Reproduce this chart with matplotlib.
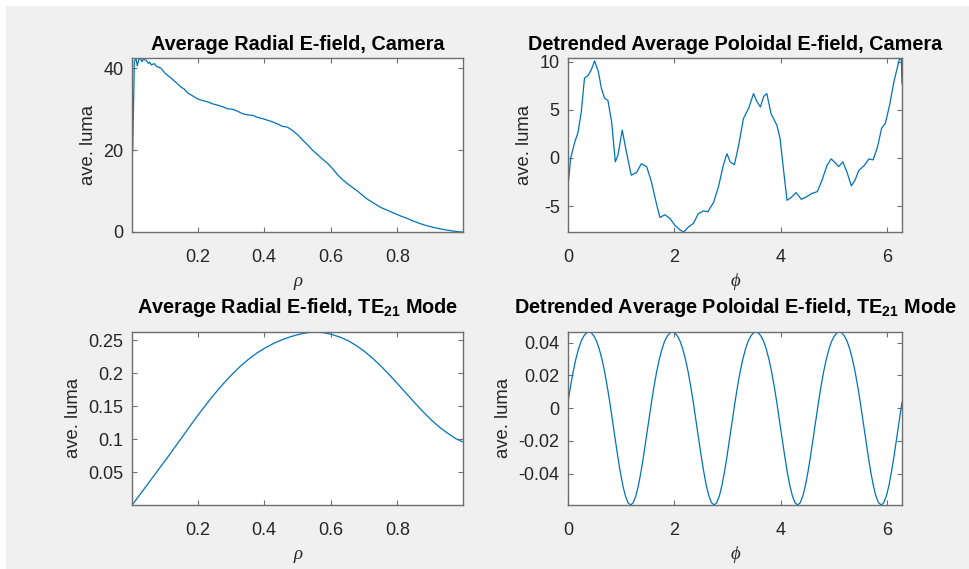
import matplotlib
matplotlib.use("Agg")
import matplotlib.pyplot as plt
import numpy as np
from matplotlib.patches import Rectangle

# ---------------- data ----------------
rho_cam = [0.005, 0.010, 0.015, 0.019, 0.023, 0.028, 0.033, 0.038, 0.046, 0.052,
           0.056, 0.061, 0.066, 0.071, 0.076, 0.081, 0.090, 0.101, 0.111, 0.120,
           0.130, 0.141, 0.150, 0.160, 0.171, 0.180, 0.190, 0.200, 0.215, 0.230,
           0.245, 0.260, 0.275, 0.290, 0.305, 0.320, 0.335, 0.350, 0.365, 0.380,
           0.395, 0.410, 0.425, 0.440, 0.455, 0.470, 0.485, 0.500, 0.515, 0.530,
           0.545, 0.560, 0.575, 0.590, 0.605, 0.620, 0.635, 0.650, 0.665, 0.680,
           0.695, 0.710, 0.730, 0.750, 0.770, 0.790, 0.810, 0.830, 0.850, 0.870,
           0.890, 0.910, 0.930, 0.950, 0.970, 0.985, 0.995]
radial_cam = [19.5, 41.8, 42.3, 40.6, 42.0, 42.4, 41.6, 42.3, 41.9, 41.2,
              41.5, 40.8, 41.0, 41.1, 40.5, 40.3, 40.0, 38.9, 38.2, 37.6,
              36.9, 36.1, 35.4, 34.9, 33.9, 33.5, 33.0, 32.5, 32.1, 31.8,
              31.3, 31.0, 30.6, 30.1, 30.0, 29.5, 28.9, 28.6, 28.5, 28.0,
              27.7, 27.3, 26.9, 26.4, 25.8, 25.6, 24.8, 23.8, 22.5, 21.3,
              20.0, 18.9, 17.8, 16.8, 15.5, 14.0, 12.8, 11.8, 10.9, 10.0,
              9.0, 8.0, 7.0, 6.0, 5.3, 4.6, 3.9, 3.3, 2.6, 2.0,
              1.5, 1.1, 0.75, 0.45, 0.2, 0.05, 0.0]

phi_cam = [0.00, 0.05, 0.13, 0.19, 0.25, 0.31, 0.38, 0.44, 0.50, 0.57,
           0.63, 0.69, 0.75, 0.82, 0.89, 0.94, 1.02, 1.10, 1.19, 1.29,
           1.38, 1.48, 1.57, 1.67, 1.73, 1.82, 1.92, 2.01, 2.11, 2.18,
           2.26, 2.36, 2.45, 2.55, 2.63, 2.74, 2.83, 2.92, 2.99, 3.05,
           3.13, 3.21, 3.30, 3.40, 3.49, 3.55, 3.62, 3.68, 3.74, 3.82,
           3.93, 3.99, 4.06, 4.12, 4.20, 4.29, 4.39, 4.50, 4.58, 4.69,
           4.78, 4.87, 4.95, 5.03, 5.09, 5.17, 5.25, 5.33, 5.40, 5.47,
           5.57, 5.66, 5.74, 5.82, 5.90, 5.97, 6.05, 6.13, 6.23, 6.27, 6.283]
poloidal_cam = [-3.0, 0.0, 1.7, 2.7, 4.8, 8.3, 8.6, 9.2, 10.1, 9.0,
                7.2, 6.2, 6.0, 3.8, -0.4, 0.3, 2.9, 0.6, -1.8, -1.5,
                -0.6, -0.9, -2.5, -4.9, -6.2, -5.9, -6.3, -7.0, -7.5, -7.7,
                -7.2, -6.8, -5.8, -5.5, -5.6, -4.6, -3.0, -0.8, 0.45, -0.4,
                -0.7, 1.3, 4.1, 5.2, 6.7, 5.9, 5.3, 6.4, 6.7, 4.6,
                3.4, 2.0, -1.5, -4.4, -4.1, -3.6, -4.3, -4.0, -3.7, -3.5,
                -2.3, -0.8, -0.1, -0.5, -0.9, -0.4, -1.5, -2.9, -2.3, -1.3,
                -0.8, -0.1, -0.2, 1.1, 3.1, 3.6, 5.5, 7.9, 10.2, 10.4, 7.7]

rho_te = [0.005, 0.030, 0.055, 0.080, 0.105, 0.130, 0.155, 0.180, 0.205, 0.230,
          0.255, 0.280, 0.305, 0.330, 0.355, 0.380, 0.405, 0.430, 0.455, 0.480,
          0.505, 0.530, 0.555, 0.580, 0.605, 0.630, 0.655, 0.680, 0.705, 0.730,
          0.755, 0.780, 0.805, 0.830, 0.855, 0.880, 0.905, 0.930, 0.955, 0.975, 0.995]
radial_te = [0.001, 0.018, 0.035, 0.052, 0.069, 0.0865, 0.104, 0.1217, 0.139, 0.1554,
             0.171, 0.1856, 0.199, 0.2112, 0.222, 0.2312, 0.239, 0.2456, 0.251, 0.2555,
             0.259, 0.2615, 0.2625, 0.2613, 0.2585, 0.2543, 0.2485, 0.2408, 0.2315, 0.2206,
             0.2085, 0.1953, 0.1815, 0.1674, 0.1535, 0.1400, 0.1275, 0.1166, 0.1075, 0.1008, 0.0960]

phi_te = np.linspace(0, 2 * np.pi, 129)
poloidal_te = [0.0037, 0.0136, 0.0225, 0.0299, 0.0360, 0.0407, 0.0439, 0.0459,
               0.0465, 0.0459, 0.0439, 0.0407, 0.0360, 0.0299, 0.0225, 0.0136, 0.0037, -0.0070, -0.0180, -0.0287, -0.0386, -0.0471, -0.0536, -0.0577,
               -0.0591, -0.0577, -0.0536, -0.0471, -0.0386, -0.0287, -0.0180, -0.0070, 0.0037, 0.0136, 0.0225, 0.0299, 0.0360, 0.0407, 0.0439, 0.0459,
               0.0465, 0.0459, 0.0439, 0.0407, 0.0360, 0.0299, 0.0225, 0.0136, 0.0037, -0.0070, -0.0180, -0.0287, -0.0386, -0.0471, -0.0536, -0.0577,
               -0.0591, -0.0577, -0.0536, -0.0471, -0.0386, -0.0287, -0.0180, -0.0070, 0.0037, 0.0136, 0.0225, 0.0299, 0.0360, 0.0407, 0.0439, 0.0459,
               0.0465, 0.0459, 0.0439, 0.0407, 0.0360, 0.0299, 0.0225, 0.0136, 0.0037, -0.0070, -0.0180, -0.0287, -0.0386, -0.0471, -0.0536, -0.0577,
               -0.0591, -0.0577, -0.0536, -0.0471, -0.0386, -0.0287, -0.0180, -0.0070, 0.0037, 0.0136, 0.0225, 0.0299, 0.0360, 0.0407, 0.0439, 0.0459,
               0.0465, 0.0459, 0.0439, 0.0407, 0.0360, 0.0299, 0.0225, 0.0136, 0.0037, -0.0070, -0.0180, -0.0287, -0.0386, -0.0471, -0.0536, -0.0577,
               -0.0591, -0.0577, -0.0536, -0.0471, -0.0386, -0.0287, -0.0180, -0.0070, 0.0037]

titles = ["Average Radial E-field, Camera",
          "Detrended Average Poloidal E-field, Camera",
          r"Average Radial E-field, TE$_{\mathbf{21}}$ Mode",
          r"Detrended Average Poloidal E-field, TE$_{\mathbf{21}}$ Mode"]
ylabel = "ave. luma"
rho_ticks = [0.2, 0.4, 0.6, 0.8]
phi_ticks = [0, 2, 4, 6]
yt_tl = [0, 20, 40]
yt_tr = [-5, 0, 5, 10]
yt_bl = [0.05, 0.1, 0.15, 0.2, 0.25]
yt_br = [-0.04, -0.02, 0, 0.02, 0.04]

# ---------------- style ----------------
plt.rcParams['font.family'] = ['Liberation Sans', 'DejaVu Sans']
plt.rcParams['axes.unicode_minus'] = False
plt.rcParams['mathtext.fontset'] = 'custom'
plt.rcParams['mathtext.rm'] = 'Liberation Sans:bold'
plt.rcParams['mathtext.bf'] = 'Liberation Sans:bold'
plt.rcParams['mathtext.it'] = 'Liberation Sans:bold'

W, H = 970, 569
fig = plt.figure(figsize=(W / 100, H / 100), dpi=100, facecolor='white')
fig.patches.append(Rectangle((6 / W, 0), 1, 1 - 6 / H, transform=fig.transFigure,
                             facecolor='#f0f0f0', edgecolor='none', zorder=-10))

line_c = '#0072BD'
edge_c = '#6e6e6e'
txt_c = '#262626'


def make_ax(px_l, px_t, px_r, px_b):
    return fig.add_axes([px_l / W, 1 - px_b / H, (px_r - px_l) / W, (px_b - px_t) / H])


def fmt(v):
    return '%g' % v


def style(ax, xt, yt, xlim, ylim, title, xlabel, tpad):
    ax.set_xlim(*xlim)
    ax.set_ylim(*ylim)
    ax.set_xticks(xt)
    ax.set_xticklabels([fmt(v) for v in xt])
    ax.set_yticks(yt)
    ax.set_yticklabels([fmt(v) for v in yt])
    ax.tick_params(direction='in', length=3.5, width=0.8, color=edge_c,
                   labelsize=13, labelcolor=txt_c, top=True, right=True)
    ax.tick_params(axis='x', pad=12.5)
    ax.tick_params(axis='y', pad=6)
    for s in ax.spines.values():
        s.set_color(edge_c)
        s.set_linewidth(1.0)
    ax.set_title(title, fontsize=14.3, fontweight='bold', color='black', pad=tpad)
    ax.set_ylabel(ylabel, fontsize=13.3, color=txt_c, labelpad=5)
    ax.set_xlabel(xlabel, fontsize=13.5, color=txt_c,
                  family=['Liberation Serif', 'DejaVu Serif'],
                  style='italic', labelpad=5)


ax1 = make_ax(132, 58, 463, 232)
ax1.plot(rho_cam, radial_cam, color=line_c, lw=0.9)
style(ax1, rho_ticks, yt_tl, (0.003, 0.997), (0, 42.5), titles[0], 'ρ', 5.8)

ax2 = make_ax(568, 58, 902, 232)
ax2.plot(phi_cam, poloidal_cam, color=line_c, lw=0.9)
style(ax2, phi_ticks, yt_tr, (0, 2 * np.pi), (-7.7, 10.4), titles[1], 'ϕ', 5.8)

ax3 = make_ax(132, 332, 463, 505)
ax3.plot(rho_te, radial_te, color=line_c, lw=0.9)
style(ax3, rho_ticks, yt_bl, (0.003, 0.997), (0.0, 0.2625), titles[2], 'ρ', 13.5)

ax4 = make_ax(568, 332, 902, 505)
ax4.plot(phi_te, poloidal_te, color=line_c, lw=0.9)
style(ax4, phi_ticks, yt_br, (0, 2 * np.pi), (-0.0591, 0.0465), titles[3], 'ϕ', 13.5)

fig.savefig('out.png', dpi=100, facecolor=fig.get_facecolor())
